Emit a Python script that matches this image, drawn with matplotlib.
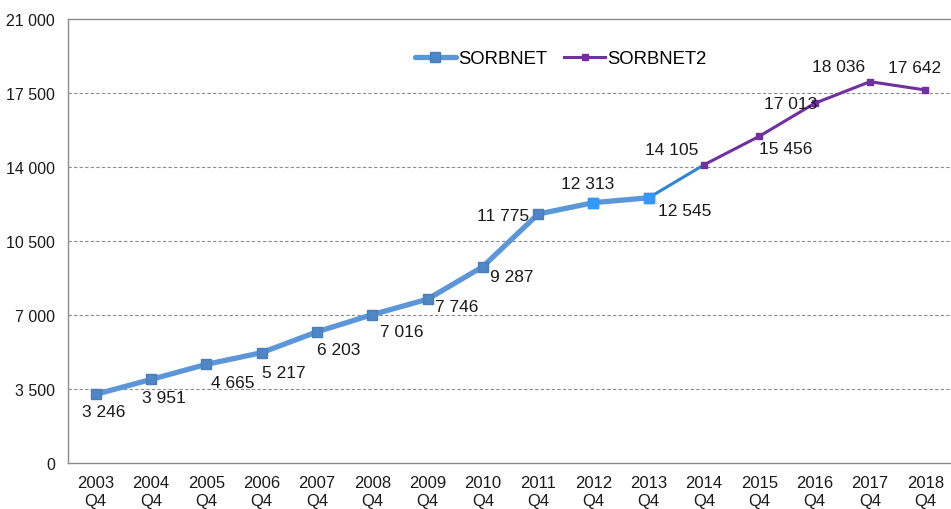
import matplotlib.pyplot as plt
import numpy as np

plt.rcParams['font.family'] = ['Liberation Sans', 'DejaVu Sans']

# data
years = ['2003', '2004', '2005', '2006', '2007', '2008', '2009', '2010',
         '2011', '2012', '2013', '2014', '2015', '2016', '2017', '2018']
sorbnet = [3246, 3951, 4665, 5217, 6203, 7016, 7746, 9287, 11775, 12313, 12545]
sorbnet2 = [14105, 15456, 17013, 18036, 17642]
yticks = [0, 3500, 7000, 10500, 14000, 17500, 21000]

# label offsets (points) for each value
offs = [(6, -12), (9, -13), (19, -13), (16, -14), (16, -13), (21, -12),
        (21, -5), (21, -7), (-25, -1), (-4, 14), (26, -9),
        (-23, 11), (19, -9), (-17, 0), (-23, 11), (-8, 16)]

def fmt(v):
    return '{:,}'.format(v).replace(',', ' ')

fig = plt.figure(figsize=(9.51, 5.10), dpi=100)
ax = fig.add_axes([0.0715, 0.0902, 0.9306, 0.8706])

x1 = np.arange(len(sorbnet))
x2 = np.arange(len(sorbnet), len(years))

ax.plot(x1, sorbnet, color='#5B96D8', lw=3.8, marker='s', ms=6.5,
        mfc='#4F86C6', mec='#4A7EBB', solid_capstyle='round', zorder=3,
        label='SORBNET')
# last two sorbnet markers are brighter
ax.plot(x1[-2:], sorbnet[-2:], ls='none', marker='s', ms=6.5,
        mfc='#3399FF', mec='#3399FF', zorder=4)
# connector 2013 -> 2014
ax.plot([x1[-1], x2[0]], [sorbnet[-1], sorbnet2[0]], color='#2E86D6',
        lw=2.2, zorder=2)
ax.plot(x2, sorbnet2, color='#7030A0', lw=2.2, marker='s', ms=5,
        mfc='#7030A0', mec='#7030A0', zorder=3, label='SORBNET2')

vals = sorbnet + sorbnet2
for i, v in enumerate(vals):
    ax.annotate(fmt(v), (i, v), xytext=offs[i], textcoords='offset points',
                ha='center', va='center', fontsize=12.5, color='#1a1a1a')

ax.set_xlim(-0.5, len(years) - 0.5)
ax.set_ylim(0, 21000)
ax.set_yticks(yticks)
ax.set_yticklabels([fmt(t) for t in yticks])
ax.set_xticks(np.arange(len(years)))
ax.set_xticklabels([y + '\nQ4' for y in years])
ax.tick_params(length=0, colors='#1a1a1a')
ax.tick_params(axis='y', pad=9.5, labelsize=11.5)
ax.tick_params(axis='x', pad=9, labelsize=12)

for yt in yticks[1:-1]:
    ax.axhline(yt, color='#8c8c8c', lw=0.8, ls=(0, (3, 2)), zorder=1)
for s in ['left', 'top', 'bottom', 'right']:
    ax.spines[s].set_color('#8c8c8c')
    ax.spines[s].set_linewidth(1)

ax.legend(loc='center', bbox_to_anchor=(0.557, 0.91), ncol=2,
          frameon=False, fontsize=13.3, handlelength=2.2, columnspacing=0.9,
          handletextpad=0.15)

plt.savefig('out.png', dpi=100)
